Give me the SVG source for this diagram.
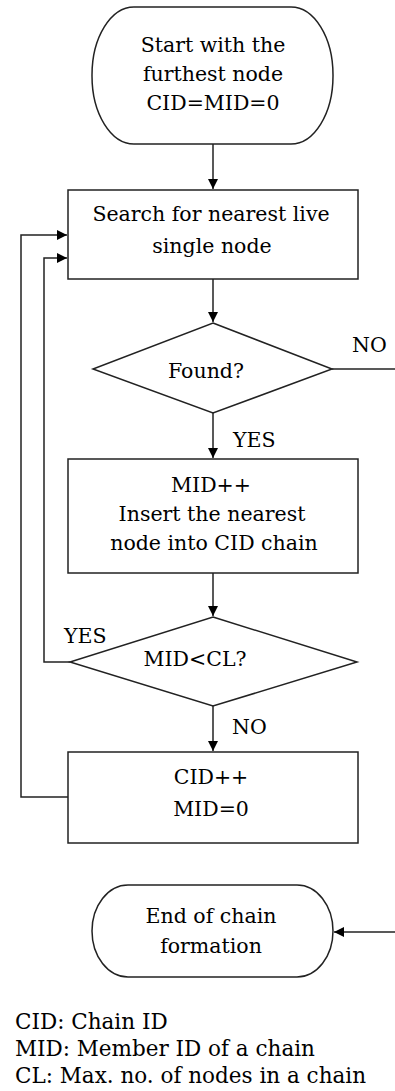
<svg xmlns="http://www.w3.org/2000/svg" width="395" height="1091" viewBox="0 0 395 1091">
<defs>
<marker id="ah" viewBox="0 0 10 10" refX="10" refY="5" markerWidth="10" markerHeight="10" markerUnits="userSpaceOnUse" orient="auto">
<path d="M0,0 L10,5 L0,10 z" fill="#000"/>
</marker>
</defs>
<style>
.s{fill:#fff;stroke:#222;stroke-width:1.5}
.t{font-family:"DejaVu Serif","Liberation Serif",serif;font-size:20.5px;fill:#000;text-anchor:middle}
.l{font-family:"DejaVu Serif","Liberation Serif",serif;font-size:20.5px;fill:#000}
.g{font-family:"DejaVu Serif","Liberation Serif",serif;font-size:21.5px;fill:#000}
.c{fill:none;stroke:#222;stroke-width:1.5}
</style>
<rect width="395" height="1091" fill="#fff"/>
<g id="connectors">
<path class="c" d="M213,144 V189" marker-end="url(#ah)"/>
<path class="c" d="M213,279 V322" marker-end="url(#ah)"/>
<path class="c" d="M332,369 H395"/>
<path class="c" d="M213,413 V458" marker-end="url(#ah)"/>
<path class="c" d="M213,573 V616" marker-end="url(#ah)"/>
<path class="c" d="M70,662 H44 V258 H67" marker-end="url(#ah)"/>
<path class="c" d="M213,706 V751" marker-end="url(#ah)"/>
<path class="c" d="M68,797 H21 V235 H67" marker-end="url(#ah)"/>
<path class="c" d="M395,932 H334" marker-end="url(#ah)"/>
<text class="l" x="352" y="352">NO</text>
<text class="l" x="233" y="447">YES</text>
<text class="l" x="64" y="643">YES</text>
<text class="l" x="232" y="734">NO</text>
</g>
<g id="start">
<rect class="s" x="92" y="7" width="241" height="137" rx="42" ry="68"/>
<text class="t" x="213" y="52">Start with the</text>
<text class="t" x="213" y="81">furthest node</text>
<text class="t" x="213" y="110">CID=MID=0</text>
</g>
<g id="search">
<rect class="s" x="68" y="190" width="290" height="89"/>
<text class="t" x="211" y="221">Search for nearest live</text>
<text class="t" x="212" y="253">single node</text>
</g>
<g id="found">
<polygon class="s" points="213,323 332,369 213,413 93,369"/>
<text class="t" x="206" y="378">Found?</text>
</g>
<g id="insert">
<rect class="s" x="68" y="459" width="290" height="114"/>
<text class="t" x="211" y="492">MID++</text>
<text class="t" x="212" y="521">Insert the nearest</text>
<text class="t" x="214" y="550">node into CID chain</text>
</g>
<g id="check">
<polygon class="s" points="213,617 357,662 213,706 70,662"/>
<text class="t" x="195" y="666">MID&lt;CL?</text>
</g>
<g id="next">
<rect class="s" x="68" y="752" width="290" height="91"/>
<text class="t" x="211" y="784">CID++</text>
<text class="t" x="211" y="816">MID=0</text>
</g>
<g id="end">
<rect class="s" x="92" y="885" width="241" height="92" rx="36" ry="46"/>
<text class="t" x="211" y="923">End of chain</text>
<text class="t" x="211" y="953">formation</text>
</g>
<g id="legend">
<text class="g" x="15" y="1029">CID: Chain ID</text>
<text class="g" x="15" y="1056">MID: Member ID of a chain</text>
<text class="g" x="15" y="1083">CL: Max. no. of nodes in a chain</text>
</g>
</svg>
